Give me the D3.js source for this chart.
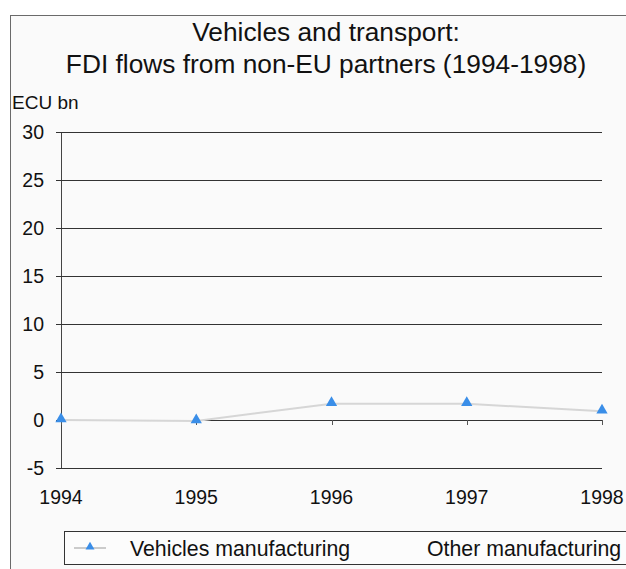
<!DOCTYPE html>
<html>
<head>
<meta charset="utf-8">
<script src="https://cdn.jsdelivr.net/npm/d3@7"></script>
<style>
  html, body { margin: 0; padding: 0; background: #ffffff; }
  svg { display: block; font-family: "Liberation Sans", Arial, sans-serif; }
</style>
</head>
<body>
<script>
// Years on the category axis
const years = ["1994", "1995", "1996", "1997", "1998"];
// FDI flows, ECU bn
const vehiclesManufacturing = [0.0, -0.1, 1.7, 1.7, 0.9];
const otherManufacturing = [null, null, null, null, null];
// Value axis ticks
const yTicks = [-5, 0, 5, 10, 15, 20, 25, 30];
const titleLines = ["Vehicles and transport:", "FDI flows from non-EU partners (1994-1998)"];
const seriesNames = ["Vehicles manufacturing", "Other manufacturing"];

const W = 626, H = 569;
const svg = d3.select("body").append("svg").attr("width", W).attr("height", H);

// chart frame
svg.append("rect").attr("x", 10).attr("y", 15).attr("width", W).attr("height", H)
  .attr("fill", "#fafafa").attr("stroke", "#6a6a6a").attr("stroke-width", 1)
  .attr("shape-rendering", "crispEdges");

// title
svg.append("g").selectAll("text").data(titleLines).join("text")
  .attr("x", 326).attr("y", (d, i) => 41 + i * 32)
  .attr("text-anchor", "middle").attr("font-size", 26.3).attr("fill", "#111")
  .text(d => d);

svg.append("text").attr("x", 12).attr("y", 109).attr("font-size", 19)
  .attr("fill", "#111").text("ECU bn");

const x = d3.scalePoint().domain(years).range([61, 602]);
const y = d3.scaleLinear().domain([-5, 30]).range([468, 132]);

// horizontal gridlines with outward ticks
const yAxis = d3.axisLeft(y).tickValues(yTicks).tickSize(5).tickPadding(12).tickFormat(d => String(d));
const gy = svg.append("g").attr("transform", "translate(61,0)").call(yAxis);
gy.select(".domain").attr("stroke", "#444").attr("shape-rendering", "crispEdges");
gy.selectAll(".tick line").attr("stroke", "#333").attr("shape-rendering", "crispEdges");
gy.selectAll(".tick text").attr("font-size", 19.5).attr("fill", "#111")
  .attr("font-family", "Liberation Sans, Arial, sans-serif");
svg.append("g").selectAll("line").data(yTicks).join("line")
  .attr("x1", 61).attr("x2", 602)
  .attr("y1", d => y(d)).attr("y2", d => y(d))
  .attr("stroke", "#333").attr("stroke-width", 1).attr("shape-rendering", "crispEdges");

// category axis crossing at zero, labels below the plot
const xAxis = d3.axisBottom(x).tickSize(5).tickFormat("");
const gx = svg.append("g").attr("transform", `translate(0,${y(0)})`).call(xAxis);
gx.select(".domain").remove();
gx.selectAll(".tick line").attr("stroke", "#555").attr("shape-rendering", "crispEdges");
svg.append("g").selectAll("text").data(years).join("text")
  .attr("x", d => x(d)).attr("y", 504)
  .attr("text-anchor", "middle").attr("font-size", 19.5).attr("fill", "#111")
  .text(d => d);

// series line and markers
const pts = years.map((yr, i) => ({ yr, v: vehiclesManufacturing[i] }));
svg.append("path").datum(pts)
  .attr("fill", "none").attr("stroke", "#d6d6d6").attr("stroke-width", 2)
  .attr("d", d3.line().x(d => x(d.yr)).y(d => y(d.v)));
const tri = d3.symbol().type(d3.symbolTriangle).size(55);
svg.append("g").selectAll("path").data(pts).join("path")
  .attr("transform", d => `translate(${x(d.yr)},${y(d.v) - 1})`)
  .attr("d", tri).attr("fill", "#3a8ee8");

// legend
const lg = svg.append("g");
lg.append("rect").attr("x", 64).attr("y", 531).attr("width", 600).attr("height", 33)
  .attr("fill", "#fcfcfc").attr("stroke", "#333").attr("stroke-width", 1)
  .attr("shape-rendering", "crispEdges");
lg.append("line").attr("x1", 74).attr("x2", 106).attr("y1", 548).attr("y2", 548)
  .attr("stroke", "#9a9a9a").attr("stroke-width", 1);
lg.append("path").attr("transform", "translate(90,547)")
  .attr("d", d3.symbol().type(d3.symbolTriangle).size(35)).attr("fill", "#3a8ee8");
lg.append("text").attr("x", 130).attr("y", 556).attr("font-size", 21.3).attr("fill", "#111").text(seriesNames[0]);
lg.append("text").attr("x", 427).attr("y", 556).attr("font-size", 21.3).attr("fill", "#111").text(seriesNames[1]);
</script>
</body>
</html>
